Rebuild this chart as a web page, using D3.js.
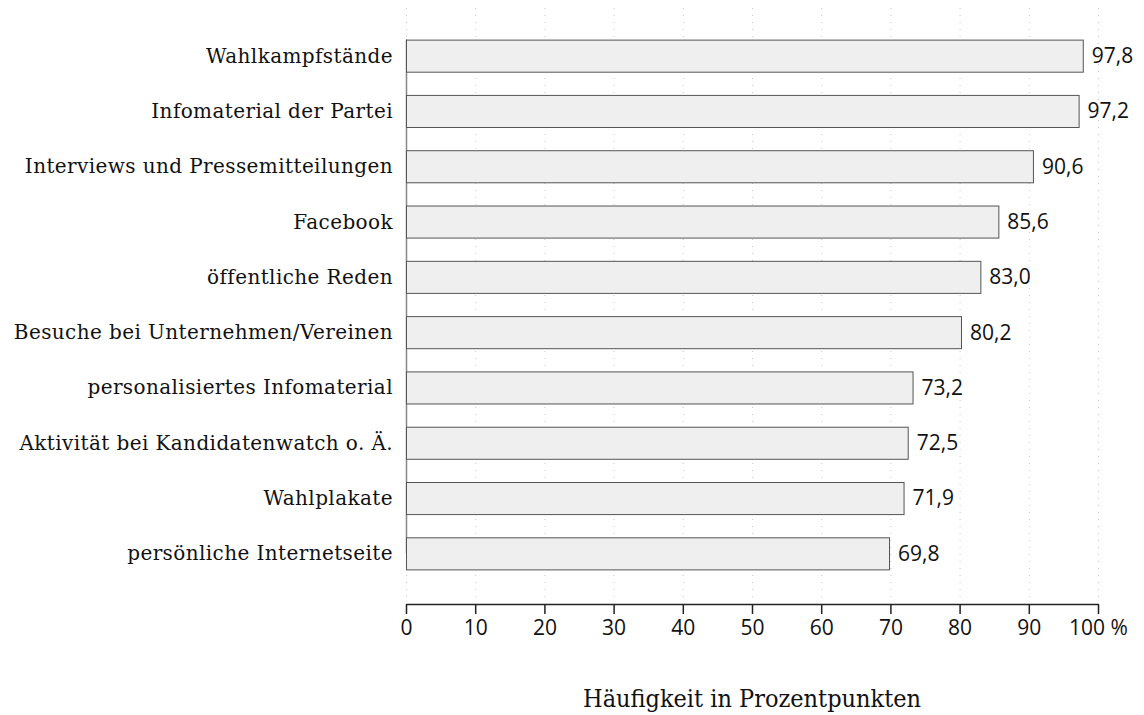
<!DOCTYPE html>
<html>
<head>
<meta charset="utf-8">
<script src="https://cdn.jsdelivr.net/npm/d3@7"></script>
<style>
  body { margin: 0; background: #fff; }
  .cat { font-family: "DejaVu Serif", serif; font-size: 20px; letter-spacing: 0.4px; fill: #111; }
  .val { font-family: "Open Sans", sans-serif; font-size: 21px; fill: #111; }
  .x.axis text { font-family: "Open Sans", sans-serif; font-size: 21px; fill: #111; }
  .title { font-family: "DejaVu Serif", serif; font-size: 25px; font-stretch: condensed; fill: #111; }
</style>
</head>
<body>
<div class="chart"></div>
<script>
const categories = [
  "Wahlkampfstände",
  "Infomaterial der Partei",
  "Interviews und Pressemitteilungen",
  "Facebook",
  "öffentliche Reden",
  "Besuche bei Unternehmen/Vereinen",
  "personalisiertes Infomaterial",
  "Aktivität bei Kandidatenwatch o. Ä.",
  "Wahlplakate",
  "persönliche Internetseite"
]
const values = [97.8, 97.2, 90.6, 85.6, 83.0, 80.2, 73.2, 72.5, 71.9, 69.8]
const xTicks = [0, 10, 20, 30, 40, 50, 60, 70, 80, 90, 100]
const axisTitle = "Häufigkeit in Prozentpunkten"

const width = 1144, height = 715
const margin = {top: 8, right: 46, bottom: 111, left: 406}

const svg = d3.select(".chart").append("svg")
  .attr("width", width)
  .attr("height", height)

const xScale = d3.scaleLinear().domain([0, 100]).range([margin.left, 1098])
const yScale = d3.scaleBand().domain(categories).range([28, 581]).paddingInner(0.42).paddingOuter(0.21)

const axisY = 604

// dotted grid
svg.append("g").selectAll("line")
  .data(xTicks)
  .join("line")
  .attr("x1", d => xScale(d) + 0.5)
  .attr("x2", d => xScale(d) + 0.5)
  .attr("y1", margin.top)
  .attr("y2", axisY - 4)
  .attr("stroke", "#c8c8c8")
  .attr("stroke-width", 1)
  .attr("stroke-dasharray", "1,6")

// left axis line
svg.append("line")
  .attr("x1", xScale(0) + 0.5)
  .attr("x2", xScale(0) + 0.5)
  .attr("y1", yScale(categories[0]))
  .attr("y2", yScale(categories[categories.length - 1]) + yScale.bandwidth() / 2)
  .attr("stroke", "#888")
  .attr("stroke-width", 1.5)

// bars
svg.append("g").selectAll("rect")
  .data(values)
  .join("rect")
  .attr("x", xScale(0) + 0.5)
  .attr("y", (d, i) => yScale(categories[i]) + 0.5)
  .attr("width", d => xScale(d) - xScale(0))
  .attr("height", yScale.bandwidth())
  .attr("fill", "#efefef")
  .attr("stroke", "#555")
  .attr("stroke-width", 1)

// value labels
svg.append("g").selectAll("text")
  .data(values)
  .join("text")
  .attr("class", "val")
  .attr("x", d => xScale(d) + 9)
  .attr("y", (d, i) => yScale(categories[i]) + yScale.bandwidth() / 2)
  .attr("dy", "0.35em")
  .text(d => d3.format(".1f")(d).replace(".", ","))

// category labels
svg.append("g").selectAll("text")
  .data(categories)
  .join("text")
  .attr("class", "cat")
  .attr("x", xScale(0) - 13)
  .attr("y", d => yScale(d) + yScale.bandwidth() / 2)
  .attr("dy", "0.35em")
  .attr("text-anchor", "end")
  .text(d => d)

// x axis
const xaxis = svg.append("g")
  .attr("class", "x axis")
  .attr("transform", "translate(0," + axisY + ")")
  .call(d3.axisBottom(xScale)
    .tickValues(xTicks)
    .tickSizeInner(10)
    .tickSizeOuter(0)
    .tickPadding(6)
    .tickFormat(d => d === 100 ? "100 %" : d))

xaxis.select(".domain").attr("stroke", "#222").attr("stroke-width", 1.5)
xaxis.selectAll(".tick line").attr("stroke", "#222").attr("stroke-width", 1.5)

svg.append("text")
  .attr("class", "title")
  .attr("x", 752)
  .attr("y", 707)
  .attr("text-anchor", "middle")
  .text(axisTitle)
</script>
</body>
</html>
